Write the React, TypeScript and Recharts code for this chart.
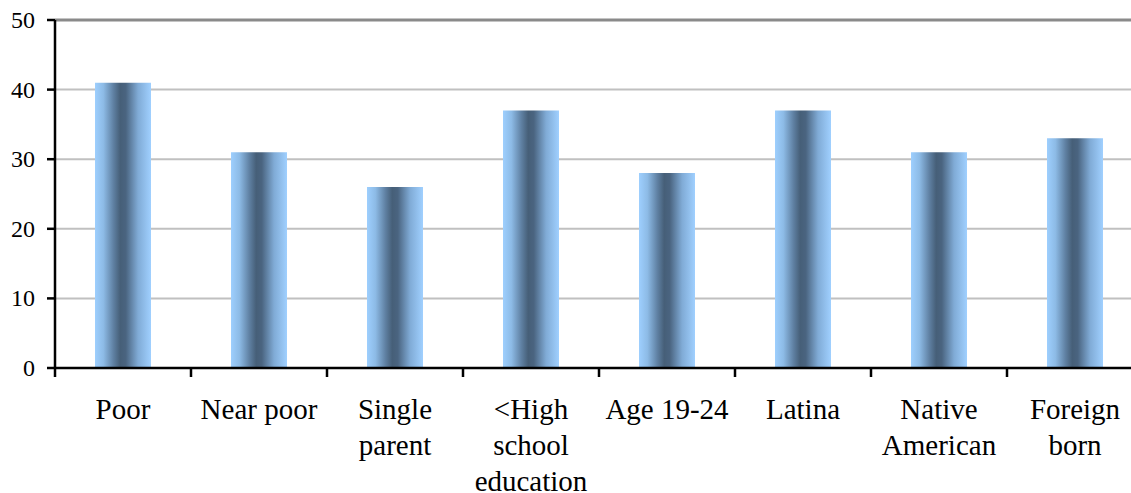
import { BarChart, Bar, XAxis, YAxis, CartesianGrid, ReferenceLine } from 'recharts';

const categories = ['Poor', 'Near poor', 'Single\nparent', '<High\nschool\neducation', 'Age 19-24', 'Latina', 'Native\nAmerican', 'Foreign\nborn'];
const values = [41, 31, 26, 37, 28, 37, 31, 33];
const yTicks = [0, 10, 20, 30, 40, 50];

const data = categories.map((name, i) => ({ name, value: values[i] }));

const FONT = 'Liberation Serif';

const CategoryTick = (props: any) => {
  const { x, y, payload } = props;
  const half = payload.offset ?? 0;
  const lines: string[] = String(payload.value).split('\n');
  return (
    <g>
      <line x1={x - half} y1={y} x2={x - half} y2={y + 9} stroke="#000" strokeWidth={2.5} />
      {lines.map((line, i) => (
        <text key={i} x={x} y={y + 51 + i * 36} textAnchor="middle" fontFamily={FONT} fontSize="29" fill="#000">
          {line}
        </text>
      ))}
    </g>
  );
};

const ValueTick = (props: any) => {
  const { x, y, payload } = props;
  return (
    <text x={x} y={y + 8} textAnchor="end" fontFamily={FONT} fontSize="24" fill="#000">
      {payload.value}
    </text>
  );
};

export default function App() {
  return (
    <div style={{ position: 'absolute', left: 0, top: 0, width: 1131, height: 493, overflow: 'hidden', background: '#fff', fontFamily: FONT }}>
      <BarChart width={1160} height={493} data={data} margin={{ top: 20, right: 17, left: 0, bottom: 0 }}>
        <defs>
          <linearGradient id="barGrad" x1="0" y1="0" x2="1" y2="0">
            <stop offset="0%" stopColor="#9ecffe" />
            <stop offset="15%" stopColor="#8dbbe6" />
            <stop offset="33%" stopColor="#5f80a2" />
            <stop offset="45%" stopColor="#465f78" />
            <stop offset="55%" stopColor="#4a6480" />
            <stop offset="77%" stopColor="#80abd6" />
            <stop offset="100%" stopColor="#a0d0ff" />
          </linearGradient>
        </defs>
        <CartesianGrid vertical={false} stroke="#c0c0c0" strokeWidth={2} />
        <ReferenceLine y={50} stroke="#8a8a8a" strokeWidth={3} />
        <XAxis
          dataKey="name"
          height={125}
          interval={0}
          axisLine={{ stroke: '#000', strokeWidth: 2.5 }}
          tickLine={false}
          tickSize={0}
          tickMargin={0}
          tick={<CategoryTick />}
        />
        <YAxis
          width={55}
          domain={[0, 50]}
          ticks={yTicks}
          interval={0}
          axisLine={{ stroke: '#000', strokeWidth: 2.5 }}
          tickLine={{ stroke: '#000', strokeWidth: 2.5 }}
          tickSize={8}
          tickMargin={12}
          tick={<ValueTick />}
        />
        <Bar dataKey="value" fill="url(#barGrad)" barSize={56} isAnimationActive={false} />
      </BarChart>
    </div>
  );
}
